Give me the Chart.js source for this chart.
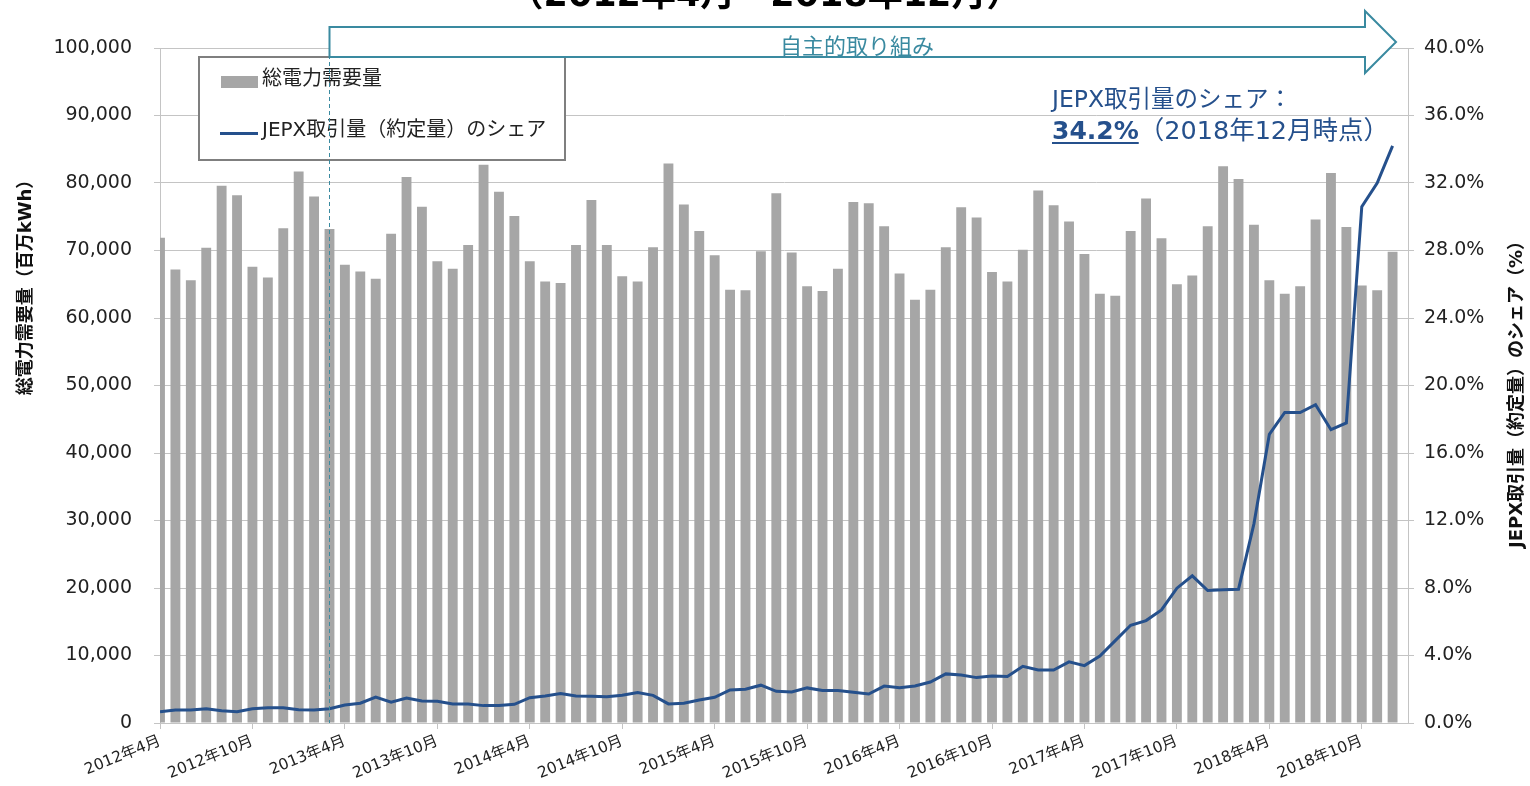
<!DOCTYPE html>
<html lang="ja">
<head>
<meta charset="utf-8">
<script src="https://cdn.jsdelivr.net/npm/chart.js@4.4.1/dist/chart.umd.min.js"></script>
<style>
  html, body { margin: 0; padding: 0; background: #fff; }
  #wrap { width: 1530px; height: 786px; }
</style>
</head>
<body>
<div id="wrap"><canvas id="chart" width="1530" height="786"></canvas></div>
<script>
// 2012年4月〜2018年12月 (81か月)
const months = [];
for (let yr = 2012; yr <= 2018; yr++) {
  for (let m = (yr === 2012 ? 4 : 1); m <= 12; m++) months.push(`${yr}年${m}月`);
}

const tickMonths = [
  '2012年4月', '2012年10月', '2013年4月', '2013年10月', '2014年4月', '2014年10月',
  '2015年4月', '2015年10月', '2016年4月', '2016年10月', '2017年4月', '2017年10月',
  '2018年4月', '2018年10月'
];

// 総電力需要量（百万kWh）
const demand = [
  71900, 67200, 65600, 70400, 79600, 78200, 67600, 66000, 73300,
  81700, 78000, 73200, 67900, 66900, 65800, 72500, 80900, 76500, 68400, 67300, 70800,
  82700, 78700, 75100, 68400, 65400, 65200, 70800, 77500, 70800, 66200, 65400, 70500,
  82900, 76800, 72900, 69300, 64200, 64100, 69900, 78500, 69700, 64700, 64000, 67300,
  77200, 77000, 73600, 66600, 62700, 64200, 70500, 76400, 74900, 66800, 65400, 70100,
  78900, 76700, 74300, 69500, 63600, 63300, 72900, 77700, 71800, 65000, 66300, 73600,
  82500, 80600, 73800, 65600, 63600, 64700, 74600, 81500, 73500, 64800, 64100, 69800
];

// JEPX取引量（約定量）のシェア（%）
const jepxShare = [
  0.67, 0.77, 0.77, 0.85, 0.73, 0.67, 0.85, 0.91, 0.91,
  0.79, 0.77, 0.85, 1.07, 1.17, 1.54, 1.23, 1.48, 1.30, 1.29, 1.13, 1.13,
  1.03, 1.03, 1.11, 1.50, 1.60, 1.74, 1.60, 1.58, 1.56, 1.64, 1.80, 1.64,
  1.13, 1.17, 1.36, 1.52, 1.96, 2.00, 2.24, 1.88, 1.84, 2.08, 1.92, 1.92,
  1.82, 1.72, 2.19, 2.09, 2.19, 2.43, 2.91, 2.85, 2.69, 2.79, 2.75, 3.36,
  3.14, 3.14, 3.62, 3.40, 3.97, 4.88, 5.79, 6.07, 6.70, 7.99, 8.72, 7.85,
  7.90, 7.93, 11.8, 17.1, 18.4, 18.4, 18.86, 17.38, 17.78, 30.6, 32.0, 34.2
];

const startMonth = '2013年3月'; // 自主的取り組みの開始
const FONT = "'DejaVu Sans', 'Noto Sans CJK JP', sans-serif";
const TEAL = '#3a8aa0';
const NAVY = '#25508c';
const GRID = '#c4c4c4';

const overlay = {
  id: 'overlay',
  afterDatasetsDraw(chart) {
    const { ctx, chartArea: a, scales: { x } } = chart;
    ctx.save();

    // 凡例
    ctx.fillStyle = '#fff';
    ctx.fillRect(199, 57, 366, 103);
    ctx.strokeStyle = '#7f7f7f';
    ctx.lineWidth = 2;
    ctx.strokeRect(199, 57, 366, 103);
    ctx.fillStyle = '#a6a6a6';
    ctx.fillRect(221, 76, 37, 12);
    ctx.strokeStyle = NAVY;
    ctx.lineWidth = 3;
    ctx.beginPath(); ctx.moveTo(220, 133.5); ctx.lineTo(258, 133.5); ctx.stroke();
    ctx.fillStyle = '#222';
    ctx.font = `20px ${FONT}`;
    ctx.textBaseline = 'middle';
    ctx.textAlign = 'left';
    ctx.fillText('総電力需要量', 262, 80);
    ctx.fillText('JEPX取引量（約定量）のシェア', 262, 131);

    // 開始時点の破線
    const sx = Math.round(x.getPixelForValue(months.indexOf(startMonth))) + 0.5;
    ctx.strokeStyle = TEAL;
    ctx.lineWidth = 1;
    ctx.setLineDash([4, 3]);
    ctx.beginPath(); ctx.moveTo(sx, 27); ctx.lineTo(sx, a.bottom); ctx.stroke();
    ctx.setLineDash([]);

    // 矢印
    const headX = 1365, tipX = 1396;
    ctx.beginPath();
    ctx.moveTo(sx, 27);
    ctx.lineTo(headX, 27);
    ctx.lineTo(headX, 11);
    ctx.lineTo(tipX, 42);
    ctx.lineTo(headX, 73);
    ctx.lineTo(headX, 57);
    ctx.lineTo(sx, 57);
    ctx.closePath();
    ctx.fillStyle = '#fff';
    ctx.fill();
    ctx.strokeStyle = TEAL;
    ctx.lineWidth = 2;
    ctx.stroke();
    ctx.fillStyle = TEAL;
    ctx.font = `22px 'Noto Sans CJK JP', sans-serif`;
    ctx.textAlign = 'center';
    ctx.textBaseline = 'middle';
    ctx.fillText('自主的取り組み', 857, 46);

    // 注記
    ctx.fillStyle = NAVY;
    ctx.textAlign = 'left';
    ctx.textBaseline = 'alphabetic';
    ctx.font = `23.5px ${FONT}`;
    ctx.fillText('JEPX取引量のシェア：', 1052, 107);
    const last = `${jepxShare[jepxShare.length - 1].toFixed(1)}%`;
    ctx.font = `bold 25px ${FONT}`;
    ctx.fillText(last, 1052, 139);
    const w = ctx.measureText(last).width;
    ctx.fillRect(1052, 142, w, 2);
    ctx.font = `25.5px ${FONT}`;
    ctx.fillText(`（${months[months.length - 1]}時点）`, 1052 + w, 139);

    // 軸タイトル
    ctx.fillStyle = '#111';
    ctx.font = `bold 18px ${FONT}`;
    ctx.textAlign = 'center';
    ctx.textBaseline = 'middle';
    ctx.save();
    ctx.translate(26, 283); ctx.rotate(-Math.PI / 2);
    ctx.fillText('総電力需要量（百万kWh）', 0, 0);
    ctx.restore();
    ctx.save();
    ctx.translate(1517, 390); ctx.rotate(-Math.PI / 2);
    ctx.fillText('JEPX取引量（約定量）のシェア（%）', 0, 0);
    ctx.restore();

    // 上部の見出し（切れている）
    ctx.fillStyle = '#000';
    ctx.font = `bold 35px ${FONT}`;
    ctx.textBaseline = 'alphabetic';
    ctx.fillText(`（${months[0]}～${months[months.length - 1]}）`, 765, 6);

    ctx.restore();
  }
};

new Chart(document.getElementById('chart'), {
  type: 'bar',
  data: {
    datasets: [
      {
        type: 'line',
        label: 'JEPX取引量（約定量）のシェア',
        data: jepxShare.map((v, i) => ({ x: i, y: v })),
        yAxisID: 'y1',
        borderColor: NAVY,
        borderWidth: 3,
        pointRadius: 0,
        tension: 0,
        order: 0
      },
      {
        label: '総電力需要量',
        data: demand.map((v, i) => ({ x: i, y: v })),
        yAxisID: 'y',
        backgroundColor: '#a6a6a6',
        barPercentage: 0.64,
        categoryPercentage: 1,
        order: 1
      }
    ]
  },
  options: {
    responsive: false,
    devicePixelRatio: 1,
    animation: false,
    layout: { padding: { top: 48, left: 0, right: 0, bottom: 0 } },
    plugins: { legend: { display: false }, tooltip: { enabled: false } },
    scales: {
      x: {
        type: 'linear',
        min: 0,
        max: months.length,
        offset: false,
        grid: { offset: false, drawOnChartArea: false, tickLength: 6, color: GRID },
        border: { color: GRID },
        afterBuildTicks: (scale) => {
          scale.ticks = tickMonths.map((m) => ({ value: months.indexOf(m) }));
        },
        afterFit: (scale) => { scale.height = 63; },
        ticks: {
          autoSkip: false,
          minRotation: 22,
          maxRotation: 22,
          padding: 3,
          color: '#222',
          font: { family: FONT, size: 15.5 },
          callback: (v) => months[v]
        }
      },
      y: {
        position: 'left',
        min: 0,
        max: 100000,
        grid: { color: GRID, tickLength: 6 },
        border: { color: GRID },
        afterFit: (scale) => { scale.width = 160; },
        ticks: {
          stepSize: 10000,
          padding: 22,
          color: '#222',
          font: { family: FONT, size: 19 },
          callback: (v) => v.toLocaleString('en-US')
        }
      },
      y1: {
        position: 'right',
        min: 0,
        max: 40,
        grid: { drawOnChartArea: false, color: GRID, tickLength: 6 },
        border: { color: GRID },
        afterFit: (scale) => { scale.width = 122; },
        ticks: {
          stepSize: 4,
          padding: 10,
          color: '#222',
          font: { family: FONT, size: 19 },
          callback: (v) => `${v.toFixed(1)}%`
        }
      }
    }
  },
  plugins: [overlay]
});
</script>
</body>
</html>
